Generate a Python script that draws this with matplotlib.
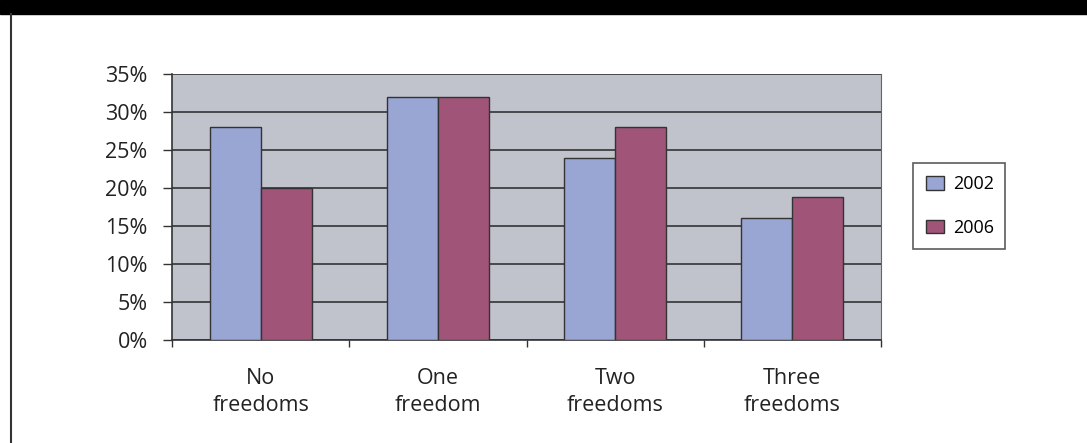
import numpy as np
import matplotlib.pyplot as plt
from matplotlib.patches import Rectangle
from matplotlib.lines import Line2D

# Dados
categorias = ["No\nfreedoms", "One\nfreedom", "Two\nfreedoms", "Three\nfreedoms"]
anos = ["2002", "2006"]
valores_2002 = [28, 32, 24, 16]
valores_2006 = [20, 32, 28, 18.8]
y_ticks = [0, 5, 10, 15, 20, 25, 30, 35]

cor_2002 = "#99A5D3"
cor_2006 = "#A05478"

plt.rcParams["font.family"] = ["Open Sans", "DejaVu Sans"]

fig = plt.figure(figsize=(10.87, 4.43), dpi=100)

# moldura: faixa preta no topo e linha à esquerda
fig.patches.append(Rectangle((0, 1 - 14 / 443), 1, 14 / 443, transform=fig.transFigure,
                             color="black", zorder=0))
fig.lines.append(Line2D([11 / 1087, 11 / 1087], [0, 1 - 14 / 443], transform=fig.transFigure,
                        color="#333333", lw=1.5))

ax = fig.add_axes([172 / 1087, 1 - 340 / 443, (881 - 172) / 1087, (340 - 74) / 443])
ax.set_facecolor("#C0C3CB")

x = np.arange(len(categorias))
largura = 0.288
ax.bar(x - largura / 2, valores_2002, largura, color=cor_2002, edgecolor="#333333",
       linewidth=1, label=anos[0], zorder=3)
ax.bar(x + largura / 2, valores_2006, largura, color=cor_2006, edgecolor="#333333",
       linewidth=1, label=anos[1], zorder=3)

ax.set_xlim(-0.5, len(categorias) - 0.5)
ax.set_ylim(0, 35)
ax.set_yticks(y_ticks)
ax.set_yticklabels([f"{v}%" for v in y_ticks], fontsize=15.5, color="#222222")
ax.yaxis.grid(True, color="#333333", linewidth=1.2, zorder=1)
ax.set_axisbelow(True)

# ticks do eixo x nas divisões entre grupos, rótulos no centro
ax.set_xticks(np.arange(-0.5, len(categorias), 1))
ax.set_xticklabels([])
ax.set_xticks(x, minor=True)
ax.set_xticklabels(categorias, minor=True, fontsize=15.5, color="#222222", linespacing=1.37)
ax.tick_params(axis="x", which="minor", length=0, pad=20)
ax.tick_params(axis="x", which="major", length=5, width=1, color="#333333", direction="out")
ax.tick_params(axis="y", length=6.5, width=1, color="#333333", pad=11)

for lado in ["left", "bottom"]:
    ax.spines[lado].set_color("#333333")
    ax.spines[lado].set_linewidth(1.2)
ax.spines["top"].set_visible(False)
ax.spines["right"].set_color("#666666")

leg = ax.legend(loc="center", bbox_to_anchor=(913 / 1087, 1 - 249 / 443, 92 / 1087, 86 / 443),
                bbox_transform=fig.transFigure, mode="expand", fontsize=13, frameon=True,
                fancybox=False, edgecolor="#333333", handlelength=1.0, handleheight=0.75,
                labelspacing=1.4, borderpad=0.7, handletextpad=0.55, borderaxespad=0)
leg.get_frame().set_linewidth(1.2)

plt.savefig("out.png", dpi=100)
